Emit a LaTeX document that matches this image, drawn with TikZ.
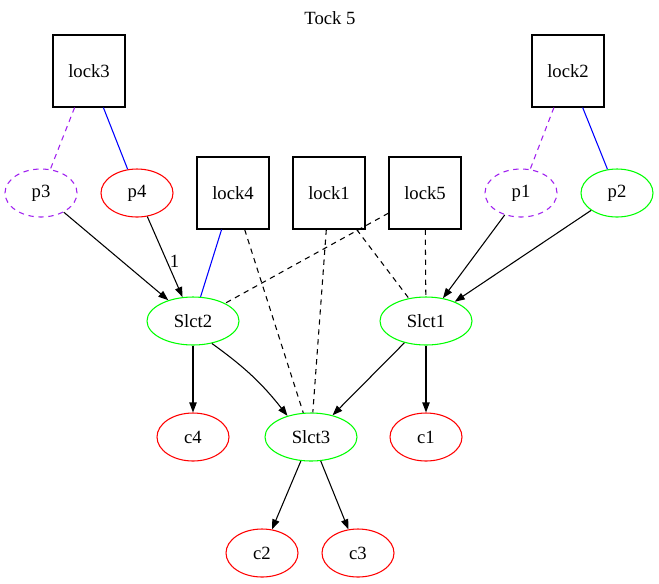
\documentclass[tikz,border=0pt]{standalone}
\usepackage{fontspec}
\setmainfont{Liberation Serif}
\usetikzlibrary{shapes.geometric,arrows.meta}

\definecolor{gvpurple}{RGB}{160,32,240}
\definecolor{gvgreen}{RGB}{0,255,0}
\definecolor{gvred}{RGB}{255,0,0}
\definecolor{gvblue}{RGB}{0,0,255}

\begin{document}
\begin{tikzpicture}[x=0.75pt,y=0.75pt,yscale=-1,xscale=1,
  every node/.style={font=\fontsize{14}{16}\selectfont},
  lockbox/.style={draw,line width=0.8pt,minimum width=54pt,minimum height=54pt,inner sep=0pt},
  proc/.style={ellipse,draw,line width=0.8pt,minimum width=54pt,minimum height=36pt,inner sep=0pt},
  pdash/.style={proc,draw=gvpurple,dash pattern={on 4pt off 3.5pt}},
  pred/.style={proc,draw=gvred},
  pgreen/.style={proc,draw=gvgreen},
  slct/.style={proc,draw=gvgreen,minimum width=69pt},
  arr/.style={line width=0.8pt,-{Triangle[length=7.5pt,width=5.5pt]}},
  weak/.style={line width=0.8pt,dash pattern={on 4pt off 3.5pt}},
  held/.style={line width=0.8pt,gvblue},
  want/.style={line width=0.8pt,gvpurple,dash pattern={on 4pt off 3.5pt}}]
\useasboundingbox (0,0) rectangle (659,583);

\node (title) at (330,18) {Tock 5};

\node[lockbox] (lock3) at (89,71) {lock3};
\node[lockbox] (lock2) at (568,71) {lock2};
\node[lockbox] (lock4) at (233,193) {lock4};
\node[lockbox] (lock1) at (329,193) {lock1};
\node[lockbox] (lock5) at (425,193) {lock5};

\node[pdash] (p3) at (41,193) {p3};
\node[pred] (p4) at (137,193) {p4};
\node[pdash] (p1) at (521,193) {p1};
\node[pgreen] (p2) at (617,193) {p2};

\node[slct] (Slct2) at (193,321) {Slct2};
\node[slct] (Slct1) at (426,321) {Slct1};
\node[slct] (Slct3) at (311,437) {Slct3};

\node[pred] (c4) at (193,437) {c4};
\node[pred] (c1) at (426,437) {c1};
\node[pred] (c2) at (262,553) {c2};
\node[pred] (c3) at (358,553) {c3};

\draw[want] (lock3) -- (p3);
\draw[held] (lock3) -- (p4);
\draw[want] (lock2) -- (p1);
\draw[held] (lock2) -- (p2);

\draw[arr] (p3) -- (Slct2);
\draw[arr] (p4) -- node[name=w1,pos=0.55,right,inner sep=2pt] {1} (Slct2);
\draw[held] (lock4) -- (Slct2);
\draw[weak] (lock5) -- (Slct2);
\draw[weak] (lock4) -- (Slct3);
\draw[weak] (lock1) -- (Slct3);
\draw[weak] (lock1) -- (Slct1);
\draw[weak] (lock5) -- (Slct1);
\draw[arr] (p1) -- (Slct1);
\draw[arr] (p2) -- (Slct1);

\draw[arr] (Slct2) -- (c4);
\draw[arr] (Slct2.-50) to[bend right=8] (Slct3.138);
\draw[arr] (Slct1) -- (Slct3);
\draw[arr] (Slct1) -- (c1);
\draw[arr] (Slct3) -- (c2);
\draw[arr] (Slct3) -- (c3);

\end{tikzpicture}
\end{document}
